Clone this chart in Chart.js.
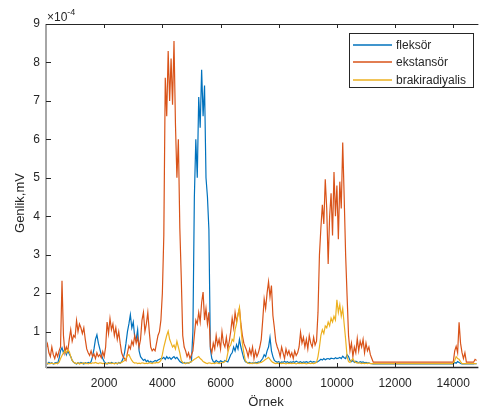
<!DOCTYPE html>
<html><head><meta charset="utf-8">
<script src="https://cdn.jsdelivr.net/npm/chart.js@4.4.0/dist/chart.umd.min.js"></script>
<style>html,body{margin:0;padding:0;background:#fff;overflow:hidden}</style>
</head><body>
<canvas id="c" width="479" height="411" style="display:block"></canvas>
<script>
// ---- data (amplitudes in units of 1e-4 mV), one value every SAMPLE_STEP samples ----
const SERIES_NAMES = ['fleksör', 'ekstansör', 'brakiradiyalis'];
const SAMPLE_STEP = 50;
const X_TICKS = [2000, 4000, 6000, 8000, 10000, 12000, 14000];
const Y_TICKS = [1, 2, 3, 4, 5, 6, 7, 8, 9];
const X_MAX = 14830;
const Y_MIN = 0.08, Y_MAX = 9;

const fleksor = [
  0.18,0.16,0.2,0.17,0.19,0.16,0.18,0.2,0.17,0.3,
  0.5,0.58,0.45,0.55,0.4,0.5,0.42,0.35,0.25,0.2,
  0.18,0.16,0.19,0.17,0.2,0.18,0.16,0.19,0.17,0.2,
  0.18,0.22,0.35,0.55,0.8,0.92,0.7,0.55,0.4,0.3,
  0.22,0.18,0.16,0.19,0.17,0.2,0.18,0.17,0.19,0.16,
  0.2,0.18,0.22,0.3,0.45,0.7,1.0,1.2,1.44,1.1,
  1.25,0.85,0.8,1.05,0.5,0.35,0.3,0.25,0.28,0.22,
  0.25,0.2,0.23,0.2,0.22,0.25,0.23,0.26,0.28,0.3,
  0.3,0.33,0.28,0.35,0.3,0.33,0.28,0.32,0.35,0.3,
  0.33,0.28,0.22,0.2,0.18,0.2,0.17,0.19,0.18,0.2,
  0.22,1.0,4.5,6.0,5.0,7.1,6.3,7.81,6.6,7.4,
  5.0,4.5,3.65,0.55,0.3,0.22,0.2,0.25,0.22,0.2,
  0.24,0.22,0.2,0.25,0.23,0.21,0.3,0.4,0.45,0.6,
  0.5,0.66,0.55,0.8,0.6,0.45,0.3,0.22,0.2,0.18,
  0.2,0.17,0.19,0.18,0.2,0.19,0.21,0.2,0.25,0.3,
  0.4,0.35,0.5,0.6,0.85,0.5,0.35,0.25,0.22,0.2,
  0.22,0.19,0.21,0.2,0.23,0.2,0.22,0.19,0.21,0.2,
  0.22,0.2,0.23,0.21,0.2,0.22,0.19,0.21,0.2,0.22,
  0.2,0.21,0.23,0.2,0.22,0.21,0.2,0.22,0.25,0.28,
  0.26,0.3,0.27,0.29,0.3,0.28,0.31,0.3,0.29,0.32,
  0.3,0.31,0.33,0.3,0.36,0.32,0.3,0.4,0.35,0.25,
  0.22,0.25,0.2,0.23,0.21,0.19,0.22,0.2,0.21,0.19,
  0.2,0.18,0.19,0.17,0.165,0.16,0.16,0.16,0.16,0.16,
  0.16,0.16,0.16,0.16,0.16,0.16,0.16,0.16,0.16,0.16,
  0.16,0.16,0.16,0.16,0.16,0.16,0.16,0.16,0.16,0.16,
  0.16,0.16,0.16,0.16,0.16,0.16,0.16,0.16,0.16,0.16,
  0.16,0.16,0.16,0.16,0.16,0.16,0.16,0.16,0.16,0.16,
  0.16,0.16,0.16,0.16,0.16,0.16,0.16,0.16,0.16,0.16,
  0.16,0.2,0.18,0.22,0.2,0.17,0.16,0.16,0.16,0.16,
  0.16,0.16,0.16,0.16,0.16,0.17,0.16
];

const ekstansor = [
  0.55,0.68,0.45,0.35,0.6,0.4,0.3,0.45,0.35,0.5,
  0.6,2.32,0.9,0.45,0.6,0.5,0.8,1.05,0.75,0.9,
  0.85,1.29,1.0,1.2,1.1,0.95,1.1,0.8,0.55,0.45,
  0.38,0.5,0.35,0.42,0.3,0.45,0.35,0.4,0.32,0.48,
  0.35,0.6,1.25,0.95,1.34,1.05,1.2,0.9,1.1,0.8,
  1.0,0.7,0.45,0.35,0.3,0.25,0.45,0.63,0.55,0.75,
  0.65,0.9,0.7,0.85,0.6,0.8,1.3,1.5,1.0,1.2,
  1.5,1.0,0.6,0.5,0.55,0.5,0.7,0.9,1.0,1.3,
  2.0,3.5,7.6,6.6,8.3,7.0,8.1,6.9,8.56,6.4,
  5.0,6.0,3.7,2.4,0.9,0.6,0.5,0.35,0.45,0.3,
  0.4,0.5,0.9,1.3,1.2,1.5,1.25,1.75,2.03,1.3,
  1.6,1.2,1.5,0.6,0.45,0.7,0.55,0.9,0.65,0.8,
  0.55,1.0,0.7,0.6,0.85,0.55,0.75,1.0,1.35,1.1,
  1.5,1.25,1.45,1.6,1.2,0.9,0.7,0.6,0.5,0.35,
  0.55,0.4,0.6,0.3,0.5,0.35,0.45,0.6,0.8,1.3,
  1.85,1.6,2.0,2.3,1.9,2.2,1.42,1.1,0.74,0.6,
  0.5,0.35,0.6,0.45,0.3,0.55,0.4,0.5,0.35,0.45,
  0.3,0.5,0.38,0.45,0.6,0.98,0.7,0.85,0.6,0.8,
  0.55,0.9,0.7,0.6,0.85,0.65,0.75,1.5,3.0,3.7,
  4.3,3.8,4.96,4.2,2.76,4.0,4.6,3.5,5.15,4.0,
  4.8,3.4,4.9,4.2,5.92,4.5,3.0,1.93,0.9,0.5,
  0.7,0.35,0.6,0.45,0.82,0.5,0.75,0.6,0.8,0.45,
  0.7,0.5,0.6,0.4,0.3,0.205,0.205,0.205,0.205,0.205,
  0.205,0.205,0.205,0.205,0.205,0.205,0.205,0.205,0.205,0.205,
  0.205,0.205,0.205,0.205,0.205,0.205,0.205,0.205,0.205,0.205,
  0.205,0.205,0.205,0.205,0.205,0.205,0.205,0.205,0.205,0.205,
  0.205,0.205,0.205,0.205,0.205,0.205,0.205,0.205,0.205,0.205,
  0.205,0.205,0.205,0.205,0.205,0.205,0.205,0.205,0.205,0.205,
  0.205,0.5,0.62,0.45,1.24,0.7,0.46,0.3,0.45,0.205,
  0.205,0.205,0.205,0.205,0.205,0.28,0.25
];

const brakiradiyalis = [
  0.17,0.18,0.16,0.17,0.18,0.17,0.16,0.18,0.17,0.2,
  0.3,0.38,0.45,0.5,0.45,0.53,0.48,0.35,0.25,0.2,
  0.18,0.17,0.19,0.16,0.18,0.17,0.19,0.17,0.18,0.16,
  0.18,0.17,0.19,0.18,0.2,0.18,0.17,0.19,0.18,0.17,
  0.18,0.16,0.18,0.17,0.19,0.17,0.18,0.16,0.18,0.17,
  0.19,0.18,0.2,0.22,0.25,0.3,0.38,0.4,0.32,0.25,
  0.2,0.18,0.19,0.17,0.18,0.17,0.19,0.18,0.17,0.18,
  0.17,0.19,0.18,0.17,0.19,0.18,0.2,0.19,0.21,0.25,
  0.4,0.6,0.75,0.9,1.01,0.8,0.7,0.6,0.65,0.55,
  0.75,0.6,0.45,0.25,0.2,0.18,0.17,0.19,0.18,0.2,
  0.22,0.25,0.28,0.3,0.33,0.35,0.3,0.27,0.22,0.2,
  0.18,0.17,0.19,0.18,0.17,0.18,0.17,0.19,0.18,0.17,
  0.18,0.19,0.2,0.22,0.25,0.45,0.6,0.65,0.8,0.75,
  1.05,1.2,1.45,1.63,1.1,0.7,0.45,0.25,0.2,0.18,
  0.17,0.18,0.17,0.19,0.18,0.17,0.18,0.19,0.2,0.22,
  0.25,0.28,0.3,0.33,0.28,0.23,0.2,0.18,0.17,0.18,
  0.17,0.18,0.17,0.18,0.17,0.16,0.18,0.17,0.18,0.17,
  0.18,0.17,0.16,0.18,0.17,0.18,0.17,0.18,0.17,0.16,
  0.17,0.18,0.17,0.18,0.17,0.18,0.2,0.35,0.6,0.9,
  1.05,0.95,1.15,1.1,1.25,1.15,1.35,1.25,1.4,1.3,
  1.83,1.5,1.7,1.4,1.6,1.2,0.8,0.35,0.22,0.2,
  0.25,0.3,0.22,0.2,0.18,0.19,0.18,0.17,0.18,0.17,
  0.18,0.17,0.18,0.17,0.17,0.17,0.17,0.17,0.17,0.17,
  0.17,0.17,0.17,0.17,0.17,0.17,0.17,0.17,0.17,0.17,
  0.17,0.17,0.17,0.17,0.17,0.17,0.17,0.17,0.17,0.17,
  0.17,0.17,0.17,0.17,0.17,0.17,0.17,0.17,0.17,0.17,
  0.17,0.17,0.17,0.17,0.17,0.17,0.17,0.17,0.17,0.17,
  0.17,0.17,0.17,0.17,0.17,0.17,0.17,0.17,0.17,0.17,
  0.17,0.25,0.35,0.3,0.28,0.22,0.17,0.17,0.17,0.17,
  0.17,0.17,0.17,0.17,0.17,0.17,0.17
];

const COLORS = ['#0072BD', '#D95319', '#EDB120'];
const TEXT = '#262626';
const FONT = "'Liberation Sans', Arial, Helvetica, sans-serif";

const toPoints = arr => arr.map((v, i) => ({ x: i * SAMPLE_STEP, y: v }));

const frame = {
  id: 'frame',
  afterDraw(chart) {
    const { ctx, chartArea: a, scales: { x, y } } = chart;
    ctx.save();
    // box lines
    ctx.strokeStyle = TEXT;
    ctx.lineWidth = 1;
    ctx.beginPath();
    ctx.moveTo(a.left, a.top + 0.5); ctx.lineTo(a.right + 1, a.top + 0.5);
    ctx.stroke();
    ctx.lineWidth = 1.5;
    ctx.beginPath();
    ctx.moveTo(a.left, a.bottom + 0.5); ctx.lineTo(a.right + 1, a.bottom + 0.5);
    ctx.stroke();
    ctx.strokeStyle = '#a6a6a6';
    ctx.lineWidth = 2;
    ctx.beginPath();
    ctx.moveTo(a.left, a.top); ctx.lineTo(a.left, a.bottom + 1);
    ctx.stroke();
    // inward tick marks
    ctx.strokeStyle = TEXT;
    ctx.lineWidth = 1;
    ctx.beginPath();
    X_TICKS.forEach(v => {
      const px = Math.round(x.getPixelForValue(v)) + 0.5;
      ctx.moveTo(px, a.bottom); ctx.lineTo(px, a.bottom - 4);
      ctx.moveTo(px, a.top); ctx.lineTo(px, a.top + 4);
    });
    Y_TICKS.forEach(v => {
      const py = Math.round(y.getPixelForValue(v)) + 0.5;
      ctx.moveTo(a.left, py); ctx.lineTo(a.left + 5, py);
    });
    ctx.stroke();

    // axis titles
    ctx.fillStyle = TEXT;
    ctx.font = '13px ' + FONT;
    ctx.textAlign = 'center';
    ctx.textBaseline = 'middle';
    ctx.fillText('Örnek', 266, 402);
    ctx.save();
    ctx.translate(20, 203);
    ctx.rotate(-Math.PI / 2);
    ctx.fillText('Genlik,mV', 0, 0);
    ctx.restore();

    // exponent label
    ctx.textAlign = 'left';
    ctx.textBaseline = 'alphabetic';
    ctx.font = '12px ' + FONT;
    ctx.fillText('\u00d710', 47, 21);
    const w = ctx.measureText('\u00d710').width;
    ctx.font = '9px ' + FONT;
    ctx.fillText('-4', 47 + w, 15);

    // legend
    const L = { x: 349.5, y: 33.5, w: 124, h: 54 };
    ctx.fillStyle = '#fff';
    ctx.fillRect(L.x, L.y, L.w, L.h);
    ctx.strokeStyle = TEXT;
    ctx.lineWidth = 1;
    ctx.strokeRect(L.x, L.y, L.w, L.h);
    const rows = [45, 62, 80];
    ctx.font = '12px ' + FONT;
    ctx.textBaseline = 'middle';
    SERIES_NAMES.forEach((name, i) => {
      ctx.beginPath();
      ctx.strokeStyle = COLORS[i];
      ctx.lineWidth = 1.5;
      ctx.moveTo(353, rows[i]);
      ctx.lineTo(392, rows[i]);
      ctx.stroke();
      ctx.fillStyle = TEXT;
      ctx.fillText(name, 396, rows[i] + 0.5);
    });
    ctx.restore();
  }
};

Chart.defaults.font.family = FONT;
Chart.defaults.color = TEXT;

new Chart(document.getElementById('c'), {
  type: 'line',
  data: {
    datasets: [
      { label: SERIES_NAMES[0], data: toPoints(fleksor), borderColor: COLORS[0], order: 3 },
      { label: SERIES_NAMES[1], data: toPoints(ekstansor), borderColor: COLORS[1], order: 2 },
      { label: SERIES_NAMES[2], data: toPoints(brakiradiyalis), borderColor: COLORS[2], order: 1 }
    ]
  },
  options: {
    responsive: false,
    animation: false,
    events: [],
    parsing: false,
    elements: {
      line: { borderWidth: 1.2, tension: 0, fill: false },
      point: { radius: 0 }
    },
    layout: { padding: { top: 24, right: 1, left: 0, bottom: 0 } },
    plugins: { legend: { display: false }, tooltip: { enabled: false } },
    scales: {
      x: {
        type: 'linear',
        min: 0, max: X_MAX,
        grid: { display: false, drawTicks: false },
        border: { display: false },
        afterBuildTicks: s => { s.ticks = X_TICKS.map(v => ({ value: v })); },
        afterFit: s => { s.height = 44; },
        ticks: { font: { size: 12 }, color: TEXT, padding: 9, maxRotation: 0, autoSkip: false,
                 callback: v => String(v) }
      },
      y: {
        type: 'linear',
        min: Y_MIN, max: Y_MAX,
        grid: { display: false, drawTicks: false },
        border: { display: false },
        afterBuildTicks: s => { s.ticks = Y_TICKS.map(v => ({ value: v })); },
        afterFit: s => { s.width = 46; },
        ticks: { font: { size: 12 }, color: TEXT, padding: 6, autoSkip: false,
                 callback: v => String(v) }
      }
    }
  },
  plugins: [frame]
});
</script>
</body></html>
